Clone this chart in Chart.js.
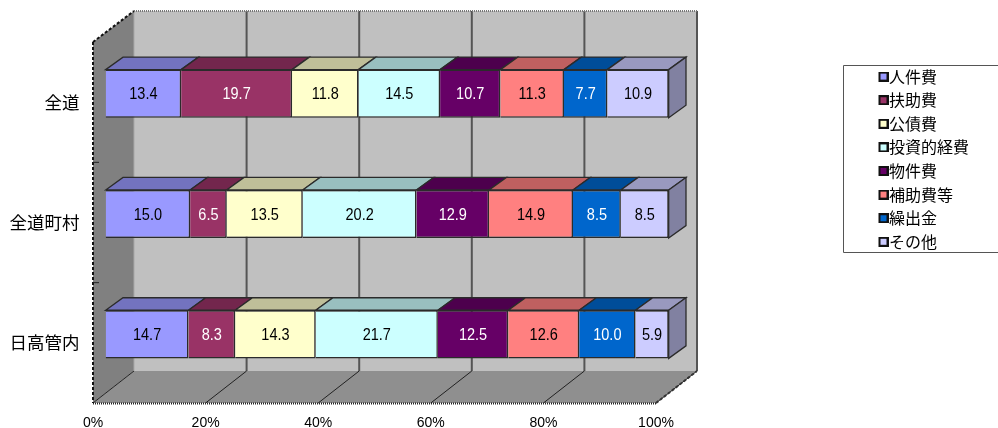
<!DOCTYPE html>
<html><head><meta charset="utf-8">
<style>html,body{margin:0;padding:0;background:#fff}#w{width:998px;height:428px;position:relative}canvas{display:block}</style>
<script src="https://cdn.jsdelivr.net/npm/chart.js@4"></script>
</head><body><div id="w"><canvas id="c" width="998" height="428"></canvas></div>
<script>
const categories = ['全道', '全道町村', '日高管内'];
const seriesNames = ['人件費', '扶助費', '公債費', '投資的経費', '物件費', '補助費等', '繰出金', 'その他'];
const jinkenhi = [13.4, 15.0, 14.7];
const fujohi = [19.7, 6.5, 8.3];
const kosaihi = [11.8, 13.5, 14.3];
const toshi = [14.5, 20.2, 21.7];
const bukken = [10.7, 12.9, 12.5];
const hojo = [11.3, 14.9, 12.6];
const kuridashi = [7.7, 8.5, 10.0];
const sonota = [10.9, 8.5, 5.9];
const seriesValues = [jinkenhi, fujohi, kosaihi, toshi, bukken, hojo, kuridashi, sonota];
const colors = ['#9999FF', '#993366', '#FFFFCC', '#CCFFFF', '#660066', '#FF8080', '#0066CC', '#CCCCFF'];
const labelColors = ['#000', '#fff', '#000', '#000', '#fff', '#000', '#fff', '#000'];
const xTicks = [0, 20, 40, 60, 80, 100];

const totals = categories.map((_, i) => seriesValues.reduce((s, v) => s + v[i], 0));

function shade(hex, f) {
  const n = parseInt(hex.slice(1), 16);
  return `rgb(${Math.round((n >> 16 & 255) * f)},${Math.round((n >> 8 & 255) * f)},${Math.round((n & 255) * f)})`;
}
const WALL = { dx: 41, dy: -32 }, OFF = { dx: 12.7, dy: -8.5 }, BAR = { dx: 17.3, dy: -12.5 };
const EDGE = '#2b2b2b';

function marker(color) {
  const c = document.createElement('canvas');
  c.width = 16; c.height = 10;
  const g = c.getContext('2d');
  g.fillStyle = '#111'; g.fillRect(6, 0, 10, 10);
  g.fillStyle = color; g.fillRect(8, 2, 6, 6);
  return c;
}
function poly(ctx, pts, fill, stroke, lw) {
  ctx.beginPath();
  pts.forEach((p, i) => i ? ctx.lineTo(p[0], p[1]) : ctx.moveTo(p[0], p[1]));
  ctx.closePath();
  if (fill) { ctx.fillStyle = fill; ctx.fill(); }
  if (stroke) { ctx.strokeStyle = stroke; ctx.lineWidth = lw || 1; ctx.stroke(); }
}
function line(ctx, x1, y1, x2, y2, color, lw, dash) {
  ctx.save(); ctx.beginPath(); ctx.setLineDash(dash || []);
  ctx.moveTo(x1, y1); ctx.lineTo(x2, y2);
  ctx.strokeStyle = color; ctx.lineWidth = lw; ctx.stroke(); ctx.restore();
}

const scene = {
  id: 'scene',
  beforeLayout(chart) {
    const lg = chart.legend;
    if (lg && !lg._wrapped) {
      const fit = lg.fit;
      lg.fit = function () { fit.call(this); this.width = 154; };
      lg._wrapped = true;
    }
  },
  afterLayout(chart) {
    const lg = chart.legend;
    lg.left = 872.4; lg.right = 1026; lg.top = 61; lg.bottom = 428;
  },
  beforeDatasetsDraw(chart) {
    const { ctx, chartArea: a, scales: { x } } = chart;
    const L = a.left, R = a.right, T = a.top, B = a.bottom;
    const d = WALL, wallTop = T + d.dy + 1;
    poly(ctx, [[L + d.dx, wallTop], [R + d.dx, wallTop], [R + d.dx, B + d.dy], [L + d.dx, B + d.dy]], '#C0C0C0');
    poly(ctx, [[L, T], [L + d.dx, wallTop], [L + d.dx, B + d.dy], [L, B]], '#808080');
    poly(ctx, [[L, B], [L + d.dx, B + d.dy], [R + d.dx, B + d.dy], [R, B]], '#8F8F8F');
    xTicks.forEach(v => {
      const px = x.getPixelForValue(v);
      if (v > 0) line(ctx, px + d.dx, wallTop, px + d.dx, B + d.dy, '#555', 2);
      if (v > 0) line(ctx, px, B, px + d.dx, B + d.dy, '#222', 1);
    });
    line(ctx, L, B, L + d.dx, B + d.dy, '#222', 1);
    line(ctx, L + d.dx, wallTop, L + d.dx, B + d.dy, '#A8A8A8', 1);
    line(ctx, L, B + 0.5, R, B + 0.5, '#222', 2, [1, 1]);
    line(ctx, L, T, L, B, '#111', 2, [3, 2]);
    line(ctx, L, T, L + d.dx, wallTop, '#111', 2, [3, 2]);
    line(ctx, L + d.dx, wallTop, R + d.dx, wallTop, '#777', 2, [1, 1]);
    line(ctx, R, B, R + d.dx, B + d.dy, '#333', 2, [3, 2]);
    const band = (B - T) / categories.length;
    for (let i = 1; i < categories.length; i++) line(ctx, L, T + band * i, L + 6, T + band * i, '#222', 1);

    ctx.save();
    ctx.translate(OFF.dx, OFF.dy);
    const n = chart.data.datasets.length;
    chart.data.datasets.forEach((ds, di) => {
      chart.getDatasetMeta(di).data.forEach(el => {
        const p = el.getProps(['x', 'y', 'base', 'height'], true);
        const top = p.y - p.height / 2, bot = p.y + p.height / 2;
        poly(ctx, [[p.base, top], [p.base + BAR.dx, top + BAR.dy], [p.x + BAR.dx, top + BAR.dy], [p.x, top]],
          shade(colors[di], 0.75), EDGE, 1.3);
        if (di === n - 1) {
          poly(ctx, [[p.x, top], [p.x + BAR.dx, top + BAR.dy], [p.x + BAR.dx, bot + BAR.dy], [p.x, bot]],
            shade(colors[di], 0.63), EDGE, 1.3);
        }
      });
    });
  },
  afterDatasetsDraw(chart) {
    const { ctx } = chart;
    ctx.font = '16.5px "Liberation Sans"';
    ctx.textAlign = 'center';
    ctx.textBaseline = 'middle';
    chart.data.datasets.forEach((ds, di) => {
      chart.getDatasetMeta(di).data.forEach((el, i) => {
        const p = el.getProps(['x', 'y', 'base'], true);
        const label = seriesValues[di][i].toFixed(1);
        ctx.fillStyle = labelColors[di];
        ctx.fillText(label, (p.x + p.base) / 2, p.y + 1, ctx.measureText(label).width * 0.88);
      });
    });
    ctx.restore();
  },
  afterDraw(chart) {
    const { ctx } = chart;
    ctx.save();
    ctx.strokeStyle = '#555'; ctx.lineWidth = 1;
    ctx.beginPath();
    ctx.moveTo(998, 65.5); ctx.lineTo(843.5, 65.5); ctx.lineTo(843.5, 252.5); ctx.lineTo(998, 252.5);
    ctx.stroke();
    ctx.restore();
  }
};

new Chart(document.getElementById('c'), {
  type: 'bar',
  plugins: [scene],
  data: {
    labels: categories,
    datasets: seriesNames.map((name, i) => ({
      label: name,
      data: seriesValues[i].map((v, k) => v / totals[k] * 100),
      backgroundColor: colors[i],
      borderColor: EDGE,
      borderWidth: 1.5,
      categoryPercentage: 1,
      barPercentage: 0.4,
      clip: false
    }))
  },
  options: {
    indexAxis: 'y',
    responsive: false,
    animation: false,
    devicePixelRatio: 1,
    layout: { padding: { top: 42, left: 0, right: 188, bottom: 0 } },
    scales: {
      x: {
        stacked: true, min: 0, max: 100,
        grid: { display: false }, border: { display: false },
        afterFit(s) { s.height = 25; },
        afterBuildTicks(s) { s.ticks = xTicks.map(v => ({ value: v })); },
        ticks: { color: '#000', font: { family: '"Liberation Sans"', size: 14 }, padding: 4, maxRotation: 0, callback: v => v + '%' }
      },
      y: {
        stacked: true,
        grid: { display: false }, border: { display: false },
        afterFit(s) { s.width = 93; },
        ticks: { color: '#000', font: { family: '"Noto Sans CJK JP"', size: 17.5 }, padding: 5.5 }
      }
    },
    plugins: {
      tooltip: { enabled: false },
      legend: {
        position: 'right', align: 'start',
        labels: {
          usePointStyle: true, pointStyleWidth: 1,
          boxWidth: 8, boxHeight: 8, padding: 7.6, color: '#000',
          font: { family: '"Noto Sans CJK JP"', size: 16 },
          generateLabels(chart) {
            return Chart.defaults.plugins.legend.labels.generateLabels(chart).map((l, i) => ({ ...l, pointStyle: marker(colors[i]) }));
          }
        }
      }
    }
  }
});
</script></body></html>
